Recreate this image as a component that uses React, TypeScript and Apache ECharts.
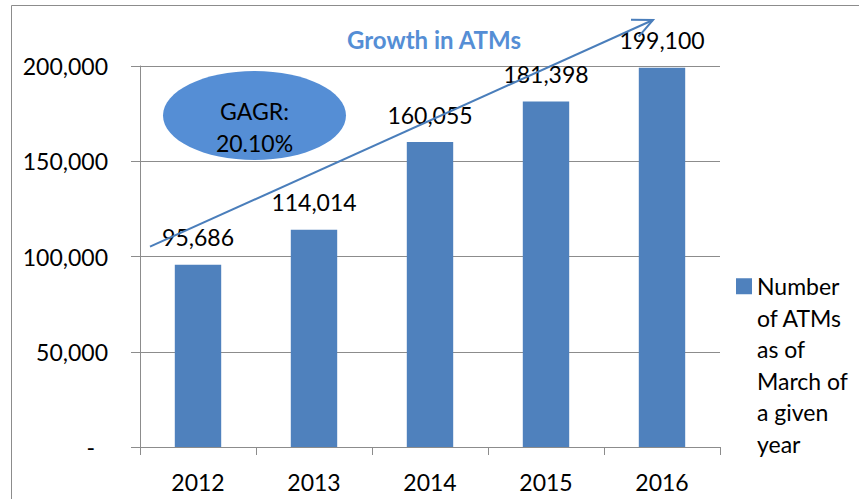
import React, { useEffect, useRef } from "react";
import * as echarts from "echarts";

const years = ["2012", "2013", "2014", "2015", "2016"];
const atmCounts = [95686, 114014, 160055, 181398, 199100];
const legendLines = ["Number", "of ATMs", "as of", "March of", "a given", "year"];
const seriesName = legendLines.join("\n");
const titleText = "Growth in ATMs";
const calloutLines = ["GAGR:", "20.10%"];

const FONT = "Lato";

function fmt(v: number): string {
  return v.toLocaleString("en-US");
}

export default function App() {
  const ref = useRef<HTMLDivElement>(null);
  useEffect(() => {
    if (!ref.current) return;
    const chart = echarts.init(ref.current, null, { renderer: "svg" });
    const grey = "#8c8c8c";
    chart.setOption({
      animation: false,
      backgroundColor: "#ffffff",
      title: {
        text: titleText,
        left: 347,
        top: 27,
        padding: 0,
        textStyle: { fontFamily: FONT, fontSize: 24, fontWeight: "bold", color: "#558ED5" },
      },
      grid: { left: 140, right: 139, top: 66, bottom: 52, containLabel: false },
      legend: {
        orient: "vertical",
        left: 736,
        top: 113,
        padding: 0,
        itemWidth: 16,
        itemHeight: 16,
        icon: "rect",
        data: [seriesName],
        formatter: (name: string) => "\n\n\n\n\n" + name,
        textStyle: {
          fontFamily: FONT,
          fontSize: 23,
          color: "#000",
          lineHeight: 31.5,
        },
      },
      xAxis: {
        type: "category",
        data: years,
        axisLine: { show: true, lineStyle: { color: grey, width: 1 } },
        axisTick: { show: true, length: 8, lineStyle: { color: grey } },
        axisLabel: { fontFamily: FONT, fontSize: 23, color: "#000", margin: 23 },
      },
      yAxis: {
        type: "value",
        min: 0,
        max: 200000,
        interval: 50000,
        axisLine: { show: true, lineStyle: { color: grey, width: 1 } },
        axisTick: { show: true, length: 9, lineStyle: { color: grey } },
        splitLine: { show: true, lineStyle: { color: grey, width: 1 } },
        axisLabel: {
          fontFamily: FONT,
          fontSize: 23,
          color: "#000",
          margin: 32,
          formatter: (v: number) => (v === 0 ? "{dash|-}" : fmt(v)),
          rich: { dash: { fontFamily: FONT, fontSize: 23, color: "#000", padding: [0, 13, 0, 0] } },
        },
      },
      series: [
        {
          name: seriesName,
          type: "bar",
          data: atmCounts,
          barWidth: "40%",
          itemStyle: { color: "#4F81BD" },
          label: {
            show: true,
            position: "top",
            distance: 16,
            fontFamily: FONT,
            fontSize: 23,
            color: "#000",
            formatter: (p: any) => fmt(p.value),
          },
        },
      ],
      graphic: [
        {
          type: "line",
          silent: true,
          shape: { x1: 11.5, y1: 5.5, x2: 900, y2: 5.5 },
          style: { stroke: grey, lineWidth: 1 },
        },
        {
          type: "line",
          silent: true,
          shape: { x1: 11.5, y1: 5.5, x2: 11.5, y2: 600 },
          style: { stroke: grey, lineWidth: 1 },
        },
        {
          type: "ellipse",
          shape: { cx: 254.5, cy: 115.5, rx: 91.5, ry: 44.5 },
          style: { fill: "#558ED5" },
          z: 10,
        },
        {
          type: "text",
          x: 254.5,
          y: 111,
          z: 11,
          style: {
            text: calloutLines[0],
            align: "center",
            verticalAlign: "middle",
            fontFamily: FONT,
            fontSize: 23,
            fill: "#000",
          },
        },
        {
          type: "text",
          x: 254.5,
          y: 143,
          z: 11,
          style: {
            text: calloutLines[1],
            align: "center",
            verticalAlign: "middle",
            fontFamily: FONT,
            fontSize: 23,
            fill: "#000",
          },
        },
        {
          type: "line",
          z: 5,
          shape: { x1: 150, y1: 246.7, x2: 653, y2: 20 },
          style: { stroke: "#4A7EBB", lineWidth: 2 },
        },
        {
          type: "polyline",
          z: 5,
          shape: { points: [[631, 19.7], [653, 20], [638.7, 36.7]] },
          style: { stroke: "#4A7EBB", lineWidth: 2, fill: null },
        },
      ],
    });
    return () => chart.dispose();
  }, []);
  return (
    <div
      ref={ref}
      style={{ position: "fixed", left: 0, top: 0, width: 859, height: 499 }}
    />
  );
}
